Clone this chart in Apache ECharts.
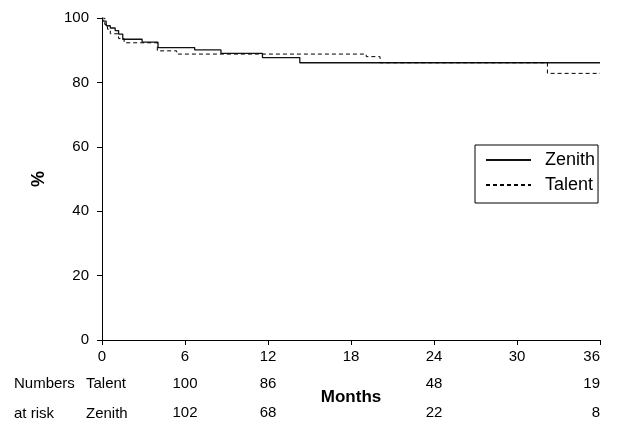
<!DOCTYPE html>
<html>
<head>
<meta charset="utf-8">
<script src="https://cdn.jsdelivr.net/npm/echarts@6/dist/echarts.min.js"></script>
<style>
html, body { margin: 0; padding: 0; background: #fff; }
#chart { width: 622px; height: 427px; }
</style>
</head>
<body>
<div id="chart"></div>
<script>
// Kaplan-Meier curves, [month, %]
var zenithCurve = [[0,100],[0.1,99],[0.3,97.6],[0.6,96.9],[0.95,96.1],[1.2,95],[1.5,93.4],[2.9,92.5],[4.05,90.8],[6.7,90.1],[8.6,89.0],[11.6,87.7],[14.3,86.1],[36,86.1]];
var talentCurve = [[0,100],[0.2,98],[0.4,96.5],[0.6,95.1],[1.2,93.6],[1.6,92.3],[4.0,89.8],[5.4,88.8],[19.1,88.0],[20.1,86.1],[32.2,82.8],[36,82.8]];

// numbers at risk
var riskMonths = [6, 12, 24, 36];
var riskTalent = [100, 86, 48, 19];
var riskZenith = [102, 68, 22, 8];
var riskRows = ['Zenith', 'Talent'];

var font = 'Liberation Sans, Arial, sans-serif';

function riskData(vals, row) {
	var out = [];
	for (var i = 0; i < vals.length; i++) {
		var lab = {formatter: String(vals[i])};
		// last column sits flush with the axis end
		if (riskMonths[i] == 36) lab.align = 'right';
		out.push({value: [riskMonths[i], row], label: lab});
	}
	return out;
}

var chart = echarts.init(document.getElementById('chart'));
var option = {
	animation: false,
	textStyle: {fontFamily: font, color: '#000'},
	grid: [
		{left: 102, right: 22, top: 18, bottom: 87},
		{left: 102, right: 22, top: 369, height: 60}
	],
	xAxis: [
		{
			gridIndex: 0, type: 'value', min: 0, max: 36, interval: 6,
			name: 'Months', nameLocation: 'middle', nameGap: 49,
			nameTextStyle: {fontSize: 17, fontWeight: 'bold', color: '#000', fontFamily: font},
			axisLine: {lineStyle: {color: '#000', width: 1}},
			axisTick: {length: 5, lineStyle: {color: '#000'}},
			axisLabel: {fontSize: 15, color: '#000', margin: 9, fontFamily: font, alignMaxLabel: 'right'},
			splitLine: {show: false}
		},
		{gridIndex: 1, type: 'value', min: 0, max: 36, show: false}
	],
	yAxis: [
		{
			gridIndex: 0, type: 'value', min: 0, max: 100, interval: 20,
			name: '%', nameLocation: 'middle', nameGap: 54, nameRotate: 90,
			nameTextStyle: {fontSize: 18, fontWeight: 'bold', color: '#000', fontFamily: font},
			axisLine: {show: true, lineStyle: {color: '#000', width: 1}},
			axisTick: {show: true, length: 5, lineStyle: {color: '#000'}},
			axisLabel: {fontSize: 15, color: '#000', margin: 13, fontFamily: font},
			splitLine: {show: false}
		},
		{gridIndex: 1, type: 'category', data: riskRows, show: false}
	],
	legend: {
		left: 475, top: 145, orient: 'vertical',
		data: ['Zenith', 'Talent'],
		itemWidth: 45, itemHeight: 14, itemGap: 7,
		padding: [6, 3, 9, 10],
		borderColor: '#000', borderWidth: 1,
		itemStyle: {opacity: 0},
		textStyle: {fontSize: 18, lineHeight: 18, color: '#000', fontFamily: font, padding: [0, 0, 0, 9]}
	},
	series: [
		{
			name: 'Zenith', type: 'line', step: 'end', symbol: 'none',
			data: zenithCurve,
			lineStyle: {color: '#111', width: 1.3, type: 'solid'},
			itemStyle: {color: '#111'}
		},
		{
			name: 'Talent', type: 'line', step: 'end', symbol: 'none',
			data: talentCurve,
			lineStyle: {color: '#000', width: 1, type: [4, 3]},
			itemStyle: {color: '#000'}
		},
		{
			type: 'scatter', xAxisIndex: 1, yAxisIndex: 1, symbolSize: 0,
			data: riskData(riskTalent, 'Talent').concat(riskData(riskZenith, 'Zenith')),
			itemStyle: {opacity: 1, color: '#000'},
			label: {
				show: true, position: [0, 0], align: 'center', verticalAlign: 'middle',
				fontSize: 15, color: '#000', textBorderWidth: 0, fontFamily: font
			},
			silent: true
		}
	],
	graphic: [
		{type: 'text', left: 14, top: 376, style: {text: 'Numbers', fontSize: 15, fill: '#000', fontFamily: font}},
		{type: 'text', left: 86, top: 376, style: {text: 'Talent', fontSize: 15, fill: '#000', fontFamily: font}},
		{type: 'text', left: 14, top: 406, style: {text: 'at risk', fontSize: 15, fill: '#000', fontFamily: font}},
		{type: 'text', left: 86, top: 406, style: {text: 'Zenith', fontSize: 15, fill: '#000', fontFamily: font}}
	]
};
chart.setOption(option);
</script>
</body>
</html>
